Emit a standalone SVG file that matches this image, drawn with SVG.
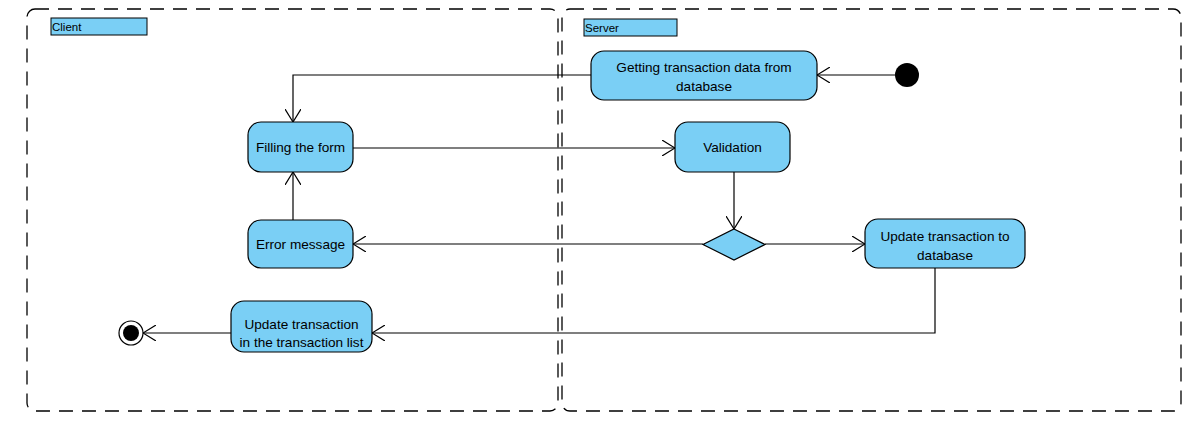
<svg xmlns="http://www.w3.org/2000/svg" width="1200" height="428" viewBox="0 0 1200 428">
<defs>
<marker id="arr" viewBox="0 0 14 16" refX="13" refY="8" markerWidth="14" markerHeight="16" markerUnits="userSpaceOnUse" orient="auto">
<path d="M0,0 L13,8 L0,16" fill="none" stroke="#000" stroke-width="1.2"/>
</marker>
<style>
.part{fill:none;stroke:#000;stroke-width:1.3;stroke-dasharray:14 9}
.lbl{fill:#7acff5;stroke:#000;stroke-width:1}
.lt{font-family:"Liberation Sans",Arial,sans-serif;font-size:11.5px;fill:#000}
.act{fill:#7acff5;stroke:#000;stroke-width:1.2}
.t{font-family:"Liberation Sans",Arial,sans-serif;font-size:13.6px;fill:#000;text-anchor:middle}
.c{fill:none;stroke:#000;stroke-width:1.2;marker-end:url(#arr)}
</style>
</defs>
<g id="partition-client">
<rect class="part" x="27" y="9" width="531" height="402" rx="8"/>
<rect class="lbl" x="51" y="18" width="96" height="17"/>
<text class="lt" x="52" y="31">Client</text>
</g>
<g id="partition-server">
<rect class="part" x="562" y="9" width="619" height="402" rx="8"/>
<rect class="lbl" x="584" y="19" width="93" height="17"/>
<text class="lt" x="585" y="32">Server</text>
</g>
<g id="connectors">
<path class="c" d="M895,75 H817"/>
<path class="c" d="M591,75 H293 V122"/>
<path class="c" d="M353,148 H675"/>
<path class="c" d="M734,172 V229"/>
<path class="c" d="M703,244 H353"/>
<path class="c" d="M765,244 H865"/>
<path class="c" d="M293,220 V172"/>
<path class="c" d="M935,268 V333 H372"/>
<path class="c" d="M231,333 H143"/>
</g>
<g id="initial">
<circle cx="907" cy="75" r="12" fill="#000"/>
</g>
<g id="getting-data">
<rect class="act" x="591" y="51" width="226" height="49" rx="13"/>
<text class="t" x="704" y="72">Getting transaction data from</text>
<text class="t" x="704" y="91">database</text>
</g>
<g id="filling-form">
<rect class="act" x="248" y="122" width="105" height="50" rx="13"/>
<text class="t" x="300.5" y="152">Filling the form</text>
</g>
<g id="validation">
<rect class="act" x="675" y="122" width="115" height="50" rx="13"/>
<text class="t" x="732.5" y="152">Validation</text>
</g>
<g id="decision">
<polygon class="act" points="734,229 765,244.5 734,260 703,244.5"/>
</g>
<g id="error-message">
<rect class="act" x="248" y="220" width="105" height="48" rx="13"/>
<text class="t" x="300.5" y="249">Error message</text>
</g>
<g id="update-db">
<rect class="act" x="865" y="219" width="160" height="49" rx="13"/>
<text class="t" x="945" y="241">Update transaction to</text>
<text class="t" x="945" y="260">database</text>
</g>
<g id="update-list">
<rect class="act" x="231" y="301" width="141" height="51" rx="13"/>
<text class="t" x="301.5" y="329">Update transaction</text>
<text class="t" x="301.5" y="347">in the transaction list</text>
</g>
<g id="final">
<circle cx="131" cy="333" r="12" fill="#fff" stroke="#000" stroke-width="1.2"/>
<circle cx="131" cy="333" r="8" fill="#000"/>
</g>
</svg>
